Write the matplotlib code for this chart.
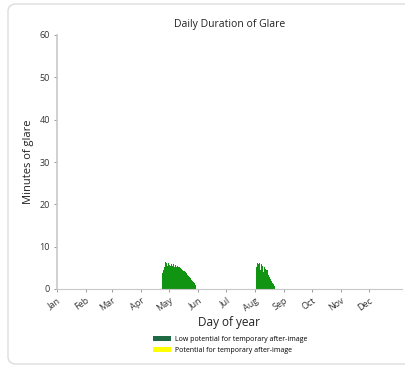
import numpy as np
import matplotlib.pyplot as plt
from matplotlib.patches import FancyBboxPatch, Patch

# donnees (minutes de reflet par jour)
months = ["Jan", "Feb", "Mar", "Apr", "May", "Jun",
          "Jul", "Aug", "Sep", "Oct", "Nov", "Dec"]
month_start = [0, 31, 59, 90, 120, 151, 181, 212, 243, 273, 304, 334]

spring_start = 112
spring_minutes = [3.8, 4.6, 5.2, 6.3, 5.0, 6.1, 5.4, 6.2, 5.6, 5.5, 6.0, 5.4,
                  5.8, 5.3, 5.6, 5.2, 5.5, 5.1, 5.3, 4.9, 5.0, 4.7, 4.6, 4.3,
                  4.2, 3.9, 3.7, 3.4, 3.1, 2.8, 2.5, 2.2, 1.9, 1.6, 1.3, 1.0, 0.6]

summer_start = 213
summer_minutes = [5.2, 6.1, 5.8, 6.2, 4.5, 6.0, 5.4, 3.9, 5.1, 4.8,
                  4.3, 4.6, 3.8, 3.2, 2.9, 2.4, 1.9, 1.5, 1.1, 0.7]

legend_labels = ["Low potential for temporary after-image",
                 "Potential for temporary after-image"]

plt.rcParams['font.family'] = ['Open Sans', 'DejaVu Sans']

fig = plt.figure(figsize=(4.06, 3.73), dpi=100)
fig.patch.set_facecolor("white")

# cadre arrondi de la capture
cadre = FancyBboxPatch((8 / 406, 9 / 373), 420 / 406, 360 / 373,
                       boxstyle="round,pad=0,rounding_size=0.02",
                       transform=fig.transFigure, facecolor="white",
                       edgecolor="#dddddd", linewidth=1.0, zorder=-10)
fig.patches.append(cadre)

ax = fig.add_axes([57 / 406, 1 - 289 / 373, 345 / 406, 254 / 373])
ax.set_facecolor("none")

days1 = spring_start + np.arange(len(spring_minutes))
days2 = summer_start + np.arange(len(summer_minutes))
ax.bar(days1, spring_minutes, width=1.15, color="#119411", linewidth=0,
       align="edge")
ax.bar(days2, summer_minutes, width=1.15, color="#119411", linewidth=0,
       align="edge")

ax.set_xlim(0, 369)
ax.set_ylim(0, 60)
ax.set_yticks(range(0, 61, 10))
ax.set_xticks(month_start)
ax.set_xticklabels(months, rotation=35, ha="right", rotation_mode="anchor")

for s in ["top", "right"]:
    ax.spines[s].set_visible(False)
ax.spines["left"].set_color("#c8c8c8")
ax.spines["left"].set_linewidth(1.2)
ax.spines["bottom"].set_color("#c8c8c8")
ax.spines["bottom"].set_linewidth(0.8)
ax.tick_params(axis="both", labelsize=6.5, colors="#888888", labelcolor="#333333",
               length=2.5, width=0.6, pad=2.5)

ax.set_title("Daily Duration of Glare", fontsize=7.5, color="#222222", pad=6)
ax.set_ylabel("Minutes of glare", fontsize=8, color="#222222", labelpad=4)
ax.set_xlabel("Day of year", fontsize=8.5, color="#222222", labelpad=2)

handles = [Patch(facecolor="#1d6a45", edgecolor="none"),
           Patch(facecolor="#ffff00", edgecolor="none")]
fig.legend(handles, legend_labels, loc="center", bbox_to_anchor=(230 / 406, 1 - 345 / 373),
           frameon=False, fontsize=5, handlelength=2.6, handleheight=0.8,
           labelspacing=0.6, handletextpad=0.6)

plt.savefig("out.png", dpi=100)
